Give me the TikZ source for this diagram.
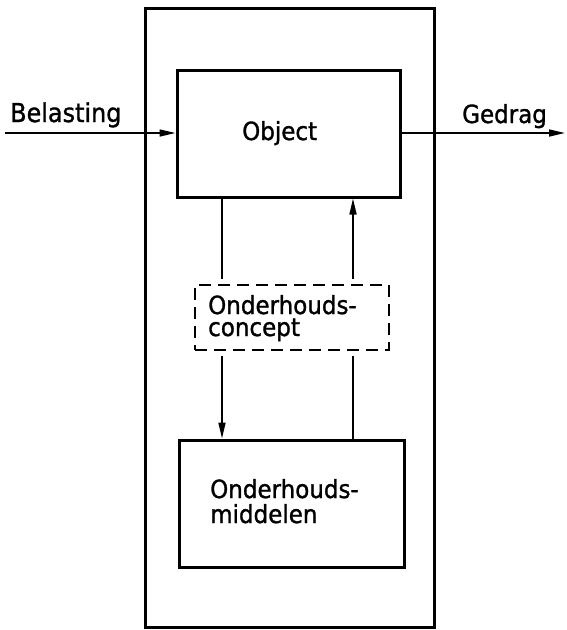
\documentclass[tikz,border=0pt]{standalone}
\usepackage{fontspec}
\setmainfont{DejaVu Sans}[FakeStretch=0.92, FakeBold=1.2]
\usetikzlibrary{arrows.meta}
\tikzset{
  thickbox/.style={draw, line width=3pt, inner sep=0pt},
  dashbox/.style={draw, line width=1.6pt, dash pattern=on 12pt off 7pt, inner sep=0pt},
  conn/.style={line width=1.6pt},
  arr/.style={conn, -{Triangle[length=16pt,width=7pt]}},
  lbl/.style={font=\fontsize{25}{22}\selectfont, inner sep=0pt, anchor=base west, align=left}
}
\begin{document}
\begin{tikzpicture}[x=1pt,y=-1pt]
\useasboundingbox (0,0) rectangle (566,630);
\node[thickbox, minimum width=289pt, minimum height=619pt] (outer) at (289.5,317.5) {};
\node[thickbox, minimum width=223pt, minimum height=127pt] (obj) at (288.5,133.5) {};
\node[dashbox, minimum width=194pt, minimum height=65pt] (concept) at (292,317.5) {};
\node[thickbox, minimum width=225pt, minimum height=127pt] (mid) at (291.5,503.5) {};
% texts
\node[lbl, font=\fontsize{26}{22}\selectfont] (tbel) at (10,122) {Belasting};
\node[lbl] (tged) at (462,123) {Gedrag};
\node[lbl] (tobj) at (242,140) {Object};
\node[lbl] (tcon) at (208,336) {Onderhouds-\\concept};
\node[lbl, font=\fontsize{25}{25}\selectfont] (tmid) at (210,523) {Onderhouds-\\middelen};
% coordinates
\coordinate (bstart) at (5,133);
\coordinate (gend) at (565,133);
% horizontal arrows
\draw[arr] (bstart) -- (obj.west |- bstart);
\draw[arr] (obj.east |- gend) -- (gend);
% vertical links
\coordinate (xl) at (222,0);
\coordinate (xr) at (353,0);
\draw[conn] (obj.south -| xl) -- ([yshift=5pt]concept.north -| xl);
\draw[arr] ([yshift=-5pt]concept.south -| xl) -- (mid.north -| xl);
\draw[conn] (mid.north -| xr) -- ([yshift=-5pt]concept.south -| xr);
\draw[arr] ([yshift=5pt]concept.north -| xr) -- (obj.south -| xr);
\end{tikzpicture}
\end{document}
